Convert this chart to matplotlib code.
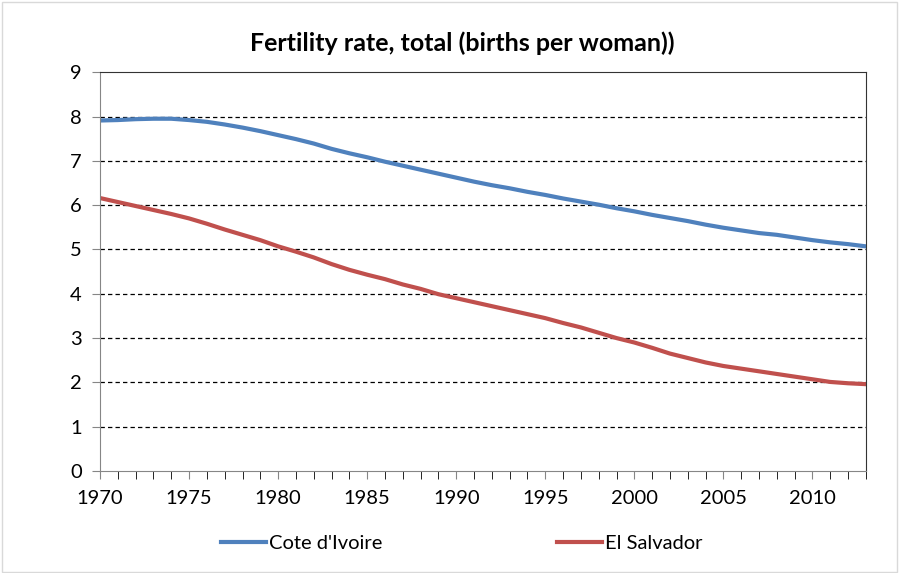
import matplotlib.pyplot as plt
import matplotlib.patches as mpatches

plt.rcParams["font.family"] = ["Lato", "DejaVu Sans"]

years = list(range(1970, 2014))
cote_divoire = [7.91, 7.92, 7.94, 7.95, 7.95, 7.92, 7.88, 7.82, 7.75, 7.67,
                7.58, 7.49, 7.39, 7.27, 7.17, 7.08, 6.98, 6.89, 6.80, 6.71,
                6.62, 6.53, 6.45, 6.38, 6.30, 6.23, 6.15, 6.08, 6.01, 5.93,
                5.86, 5.78, 5.71, 5.64, 5.56, 5.49, 5.43, 5.37, 5.33, 5.27,
                5.21, 5.16, 5.12, 5.07]
el_salvador = [6.16, 6.07, 5.98, 5.89, 5.80, 5.70, 5.58, 5.45, 5.33, 5.21,
               5.07, 4.95, 4.82, 4.67, 4.54, 4.43, 4.33, 4.21, 4.11, 3.99,
               3.90, 3.81, 3.72, 3.63, 3.54, 3.45, 3.34, 3.24, 3.12, 3.00,
               2.90, 2.78, 2.65, 2.55, 2.45, 2.37, 2.31, 2.25, 2.19, 2.13,
               2.07, 2.01, 1.98, 1.96]
year_labels = list(range(1970, 2011, 5))

fig = plt.figure(figsize=(9.02, 5.73), dpi=100)
ax = fig.add_axes([0.1109, 0.178, 0.849, 0.696])

l1, = ax.plot(years, cote_divoire, color="#4F81BD", lw=3, label="Cote d'Ivoire")
l2, = ax.plot(years, el_salvador, color="#C0504D", lw=3, label="El Salvador")

ax.set_xlim(1970, 2013)
ax.set_ylim(0, 9)
ax.set_yticks(range(0, 10))
ax.set_xticks(years, minor=True)
ax.set_xticks(year_labels)
ax.tick_params(axis="both", labelsize=14.5, color="#868686")
ax.tick_params(axis="x", which="both", length=6, direction="out", pad=8)
ax.tick_params(axis="y", length=6, pad=7)

for y in range(1, 9):
    ax.axhline(y, color="black", lw=0.9, ls=(0, (3.5, 2.5)), zorder=0)

ax.spines["left"].set_color("#868686")
ax.spines["bottom"].set_color("#868686")
ax.spines["top"].set_color("#333333")
ax.spines["right"].set_color("#333333")

fig.suptitle("Fertility rate, total (births per woman))", x=0.512, y=0.945,
             fontsize=18, fontweight="bold")

fig.legend(handles=[l1, l2], loc="center", bbox_to_anchor=(0.512, 0.052),
           ncol=2, frameon=False, fontsize=14.5, handlelength=2.2,
           handletextpad=0.15, columnspacing=8.7)

fig.patches.append(mpatches.Rectangle((0.002, 0.002), 0.992, 0.995,
                                      transform=fig.transFigure, fill=False,
                                      edgecolor="#D9D9D9", lw=1))

fig.savefig("out.png", dpi=100)
